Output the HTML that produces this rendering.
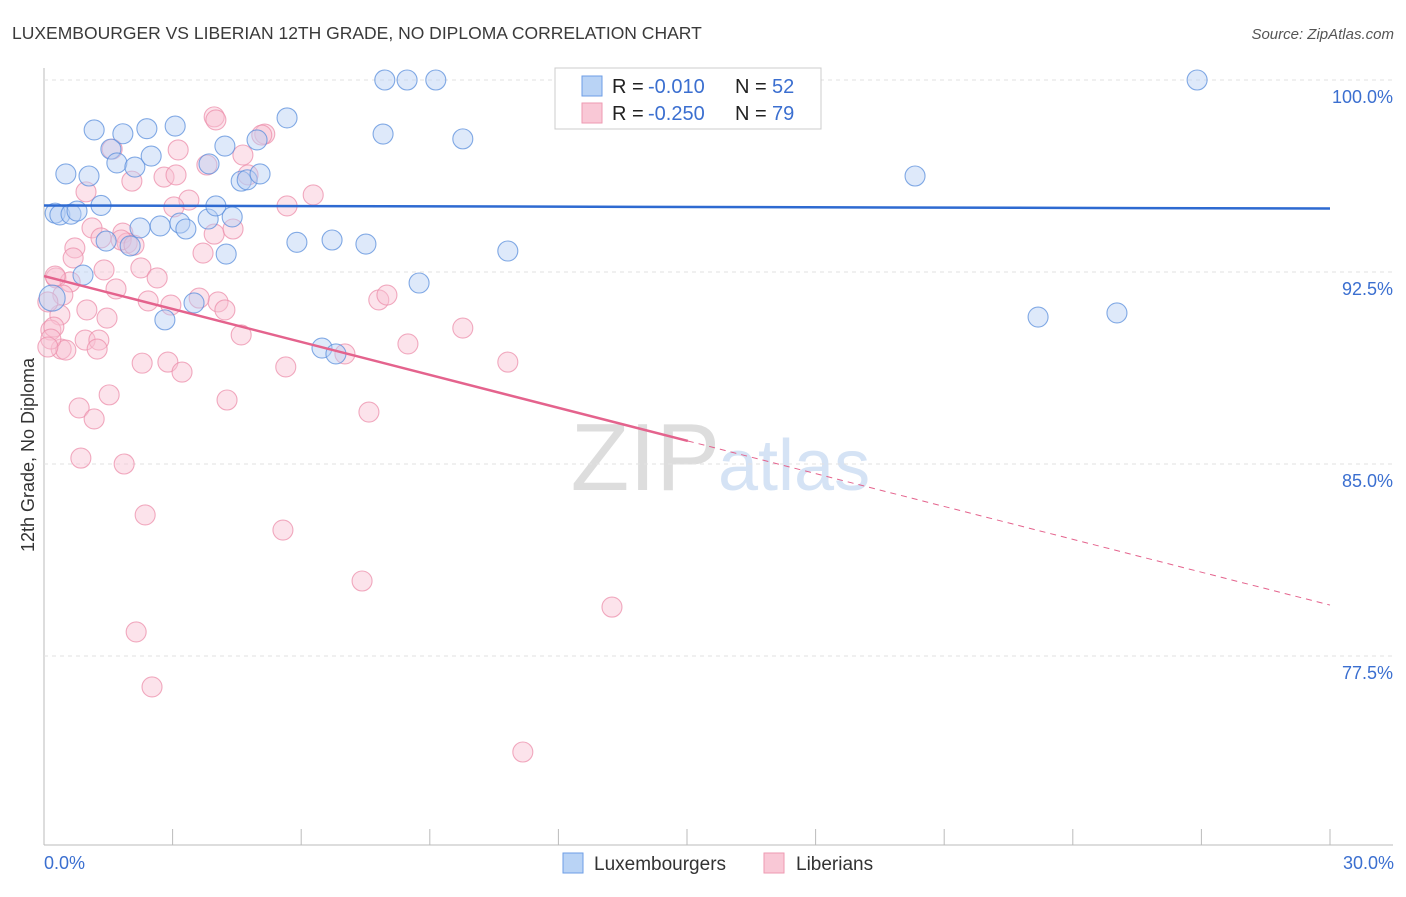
<!DOCTYPE html>
<html><head><meta charset="utf-8"><style>
body{margin:0;background:#fff;font-family:"Liberation Sans",sans-serif;}
svg text{font-family:"Liberation Sans",sans-serif;}
</style></head><body>
<svg id="c" width="1406" height="892">
<text x="12" y="39" font-size="17.5" fill="#3a3a3a">LUXEMBOURGER VS LIBERIAN 12TH GRADE, NO DIPLOMA CORRELATION CHART</text>
<text x="1394" y="39" font-size="15" fill="#555" font-style="italic" text-anchor="end">Source: ZipAtlas.com</text>
<text x="720" y="490" font-size="96" fill="#ddd" text-anchor="end" font-family="Liberation Serif">ZIP</text>
<text x="718" y="490" font-size="72" fill="#d5e3f5">atlas</text>
<g id="grid"></g>
<g id="pts"></g>
<g id="lines"></g>
<text transform="translate(34,455) rotate(-90)" font-size="18" fill="#333" text-anchor="middle">12th Grade, No Diploma</text>
<text x="44" y="869" font-size="18" fill="#3b6fd0">0.0%</text>
<text x="1394" y="869" font-size="18" fill="#3b6fd0" text-anchor="end">30.0%</text>
<g>
<rect x="555" y="68" width="266" height="61" fill="#fff" stroke="#ccc"/>
<rect x="582" y="76" width="20" height="20" fill="#b9d3f5" stroke="#6d9ee6"/>
<text x="612" y="93" font-size="20" fill="#222">R =</text>
<text x="648" y="93" font-size="20" fill="#3b6fd0">-0.010</text>
<text x="735" y="93" font-size="20" fill="#222">N =</text>
<text x="772" y="93" font-size="20" fill="#3b6fd0">52</text>
<rect x="582" y="103" width="20" height="20" fill="#f9c8d6" stroke="#ee9ab2"/>
<text x="612" y="120" font-size="20" fill="#222">R =</text>
<text x="648" y="120" font-size="20" fill="#3b6fd0">-0.250</text>
<text x="735" y="120" font-size="20" fill="#222">N =</text>
<text x="772" y="120" font-size="20" fill="#3b6fd0">79</text>
</g>
<g>
<rect x="563" y="853" width="20" height="20" fill="#b9d3f5" stroke="#6d9ee6"/>
<text x="594" y="870" font-size="19" fill="#333">Luxembourgers</text>
<rect x="764" y="853" width="20" height="20" fill="#f9c8d6" stroke="#ee9ab2"/>
<text x="796" y="870" font-size="19" fill="#333">Liberians</text>
</g>
</svg>
<script>
const yTicks=[100,92.5,85,77.5];
const yTickLabels=["100.0%","92.5%","85.0%","77.5%"];
const xTicks=[0,3,6,9,12,15,18,21,24,27,30];
const luxX=[1.17,1.84,2.4,3.06,0.51,1.05,1.56,1.7,2.12,2.5,0.26,0.37,0.63,0.77,1.33,2.24,1.45,2.01,2.71,3.17,3.31,3.83,4.01,4.39,4.25,3.85,4.22,4.6,4.74,5.04,4.97,5.67,0.91,2.82,3.5,5.9,6.72,7.51,6.485,6.81,7.95,8.47,9.14,7.91,9.77,10.82,8.75,20.32,26.9,23.19,25.03,0.19];
const luxY=[98.05,97.9,98.1,98.2,96.33,96.25,97.3,96.76,96.6,97.03,94.8,94.73,94.76,94.88,95.1,94.22,93.71,93.52,94.3,94.41,94.18,94.57,95.08,94.65,93.2,96.72,97.42,96.05,96.1,96.33,97.66,98.52,92.38,90.63,91.29,93.66,93.75,93.59,89.53,89.3,100,100,100,97.89,97.7,93.32,92.07,96.25,100,90.74,90.9,91.48];
const libX=[3.97,4.01,5.15,5.08,1.59,3.13,3.8,4.64,4.76,2.05,2.8,3.08,0.98,3.38,3.03,6.28,5.67,1.12,1.33,1.84,1.94,1.8,2.1,0.72,0.68,3.97,4.41,3.71,2.26,1.4,0.28,0.61,2.64,1.68,0.44,2.43,4.06,3.62,2.96,4.22,1.0,0.37,1.47,0.16,0.23,0.96,1.28,1.24,0.4,0.51,4.6,2.29,2.89,3.22,5.64,7.02,8.49,9.77,10.82,7.81,8.0,1.52,0.82,1.17,4.27,7.58,0.86,1.87,2.36,5.574,7.42,13.25,2.15,2.52,11.17,0.16,0.09,0.09,0.26];
const libY=[98.56,98.44,97.89,97.85,97.3,97.27,96.68,97.07,96.29,96.05,96.21,96.29,95.63,95.31,95.04,95.51,95.08,94.22,93.83,94.02,93.63,93.75,93.55,93.44,93.05,93.98,94.18,93.24,92.66,92.58,92.27,92.11,92.27,91.84,91.6,91.37,91.33,91.48,91.21,91.02,91.02,90.82,90.7,90.23,90.35,89.84,89.84,89.49,89.49,89.45,90.04,88.94,88.98,88.59,88.79,89.3,89.69,90.31,88.98,91.41,91.6,87.7,87.19,86.76,87.5,87.03,85.23,85.0,83.01,82.42,80.43,79.41,78.44,76.29,73.75,89.88,91.33,89.57,92.34];
const X=v=>44+v*(1286/30), Y=v=>80+(100-v)*25.6;
const ns="http://www.w3.org/2000/svg";
function mk(t,a,p){const e=document.createElementNS(ns,t);for(const k in a)e.setAttribute(k,a[k]);p.appendChild(e);return e;}
const g=document.getElementById('grid');
let ax=mk('line',{x1:44,y1:68,x2:44,y2:845,stroke:'#bbb'},g);


let bx=mk('line',{x1:44,y1:845,x2:1393,y2:845,stroke:'#bbb'},g);


yTicks.forEach((v,i)=>{
 const l=mk('line',{x1:44,x2:1393,y1:Y(v),y2:Y(v),stroke:'#e2e2e2','stroke-dasharray':'4,4'},g);
 
 
 const t=mk('text',{x:1393,y:Y(v)+23,'font-size':18,fill:'#3b6fd0','text-anchor':'end'},g);
 t.textContent=yTickLabels[i];
 
 
});
xTicks.forEach(v=>{
 const l=mk('line',{x1:X(v),x2:X(v),y1:829,y2:845,stroke:'#bbb'},g);
 
 
});
const p=document.getElementById('pts');
function dots(xs,ys,fill,stroke,name){xs.forEach((x,i)=>{
 const c=mk('circle',{cx:X(x),cy:Y(ys[i]),r:(name==='lux-point'&&i===xs.length-1)?13:10,fill:fill,'fill-opacity':0.45,stroke:stroke,'stroke-opacity':0.75,'stroke-width':1.1},p);
 
 
});}
dots(libX,libY,'#f9c0d2','#ec8fab','lib-point');
dots(luxX,luxY,'#b5cff3','#5b8fdc','lux-point');
const L=document.getElementById('lines');
let t1=mk('line',{x1:X(0),y1:Y(95.1),x2:X(30),y2:Y(94.98),stroke:'#2e6ad1','stroke-width':2.5},L);


let t2=mk('line',{x1:X(0),y1:Y(92.34),x2:X(15.02),y2:Y(85.9),stroke:'#e4638d','stroke-width':2.5},L);


let t3=mk('line',{x1:X(15.02),y1:Y(85.9),x2:X(30),y2:Y(79.49),stroke:'#e4638d','stroke-width':1,'stroke-dasharray':'6,5'},L);


</script>
</body></html>
